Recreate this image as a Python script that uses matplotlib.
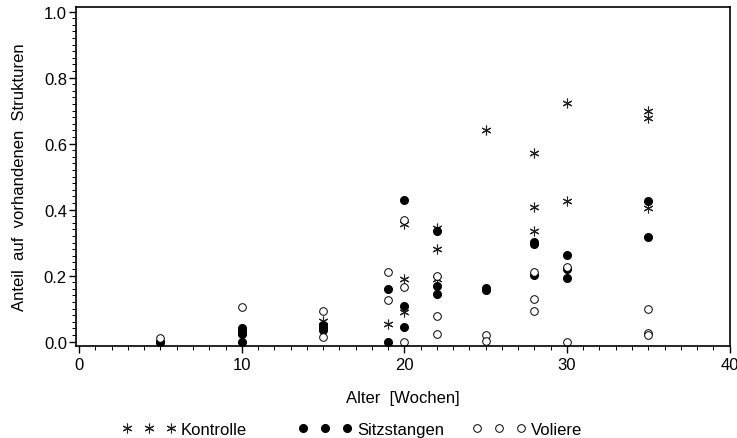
import matplotlib.pyplot as plt
from matplotlib.ticker import MultipleLocator, FormatStrFormatter

plt.rcParams['font.family'] = ['Liberation Sans', 'DejaVu Sans']

# Anteil der Tiere auf vorhandenen Strukturen je Alterswoche
kontrolle_x = [15, 19, 20, 20, 20, 22, 22, 22, 25, 28, 28, 28, 30, 30, 35, 35, 35]
kontrolle_y = [0.062, 0.052, 0.356, 0.189, 0.090, 0.343, 0.280, 0.189, 0.642,
               0.571, 0.407, 0.335, 0.722, 0.425, 0.700, 0.677, 0.404]

sitz_x = [5, 5, 10, 10, 10, 10, 15, 15, 15, 19, 19, 20, 20, 20, 22, 22, 22,
          25, 25, 28, 28, 28, 30, 30, 30, 35, 35]
sitz_y = [0.0, 0.0, 0.042, 0.032, 0.024, 0.0, 0.049, 0.042, 0.035, 0.159, 0.0,
          0.429, 0.108, 0.043, 0.335, 0.169, 0.144, 0.162, 0.156, 0.302, 0.297,
          0.201, 0.262, 0.221, 0.192, 0.427, 0.317]

voliere_x = [5, 10, 15, 15, 19, 19, 20, 20, 20, 22, 22, 22, 25, 25, 28, 28, 28,
             30, 30, 35, 35, 35]
voliere_y = [0.011, 0.106, 0.093, 0.014, 0.211, 0.125, 0.368, 0.165, 0.0, 0.199,
             0.076, 0.023, 0.019, 0.003, 0.211, 0.130, 0.092, 0.226, 0.0, 0.098,
             0.027, 0.021]

fig = plt.figure(figsize=(7.37, 4.39), dpi=100)
ax = fig.add_axes([0.103, 0.21, 0.888, 0.772])

asterisk = (6, 2, 0)
k, = ax.plot(kontrolle_x, kontrolle_y, linestyle='none', marker=asterisk,
             markersize=7, markeredgewidth=0.8, color='#222222', label='Kontrolle')
s, = ax.plot(sitz_x, sitz_y, linestyle='none', marker='o', markersize=5.5,
             color='black', label='Sitzstangen')
v, = ax.plot(voliere_x, voliere_y, linestyle='none', marker='o', markersize=5.5,
             markerfacecolor='white', markeredgecolor='black', markeredgewidth=0.7,
             label='Voliere')

ax.set_xlim(-0.2, 40.05)
ax.set_ylim(-0.013, 1.014)
ax.xaxis.set_major_locator(MultipleLocator(10))
ax.xaxis.set_minor_locator(MultipleLocator(1))
ax.yaxis.set_major_locator(MultipleLocator(0.2))
ax.yaxis.set_minor_locator(MultipleLocator(0.02))
ax.yaxis.set_major_formatter(FormatStrFormatter('%.1f'))
ax.tick_params(which='major', direction='out', length=5, width=1, labelsize=12)
ax.tick_params(which='minor', direction='out', length=3, width=0.7)
ax.tick_params(axis='x', pad=3)
ax.tick_params(axis='y', pad=1.5)
for spine in ax.spines.values():
    spine.set_linewidth(1.2)

ax.set_xlabel('Alter  [Wochen]', fontsize=12)
ax.set_ylabel('Anteil  auf  vorhandenen  Strukturen', fontsize=12)
ax.xaxis.set_label_coords(0.5, -0.13)
ax.yaxis.set_label_coords(-0.075, 0.5)

# one legend box per group, laid out in a row below the axes
for handle, xpos in zip([k, s, v], [0.1655, 0.4043, 0.6404]):
    fig.legend(handles=[handle], loc='center left', bbox_to_anchor=(xpos, 0.0205),
               frameon=False, numpoints=3, fontsize=12, borderpad=0,
               borderaxespad=0, handlelength=3.24, handletextpad=0.3)

fig.savefig('out.png', dpi=100)
